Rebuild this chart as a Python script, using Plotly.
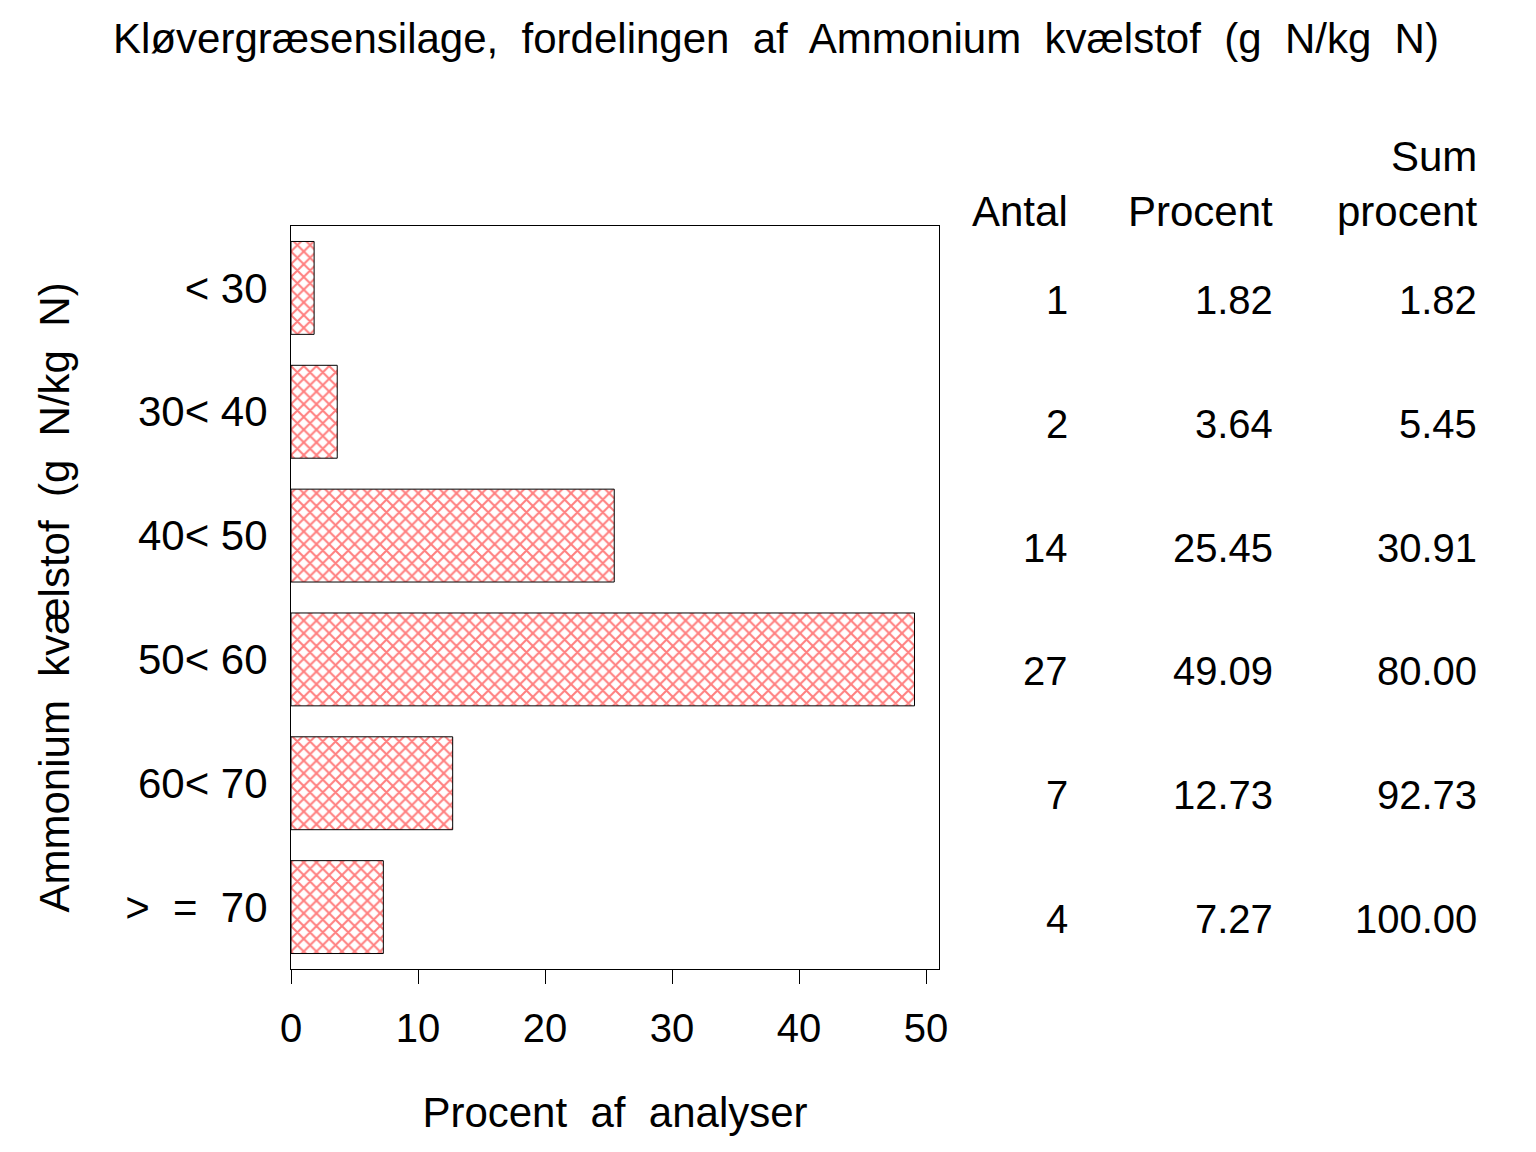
import plotly.graph_objects as go

FONT = "Liberation Sans, Arial, sans-serif"

# data
klasser = ["< 30", "30< 40", "40< 50", "50< 60", "60< 70", ">  =  70"]
antal = [1, 2, 14, 27, 7, 4]
procent = [1.82, 3.64, 25.45, 49.09, 12.73, 7.27]
sum_procent = [1.82, 5.45, 30.91, 80.00, 92.73, 100.00]
x_ticks = [0, 10, 20, 30, 40, 50]

fig = go.Figure()
fig.add_trace(go.Bar(
    y=klasser, x=procent, orientation="h", width=0.75,
    marker=dict(
        color="white",
        line=dict(color="black", width=1),
        pattern=dict(shape="x", size=9, solidity=0.4, fgcolor="#ff0000", bgcolor="white"),
    ),
    showlegend=False, hoverinfo="skip",
))

# tabel til hoejre
col_x = [1.202, 1.5186, 1.8333]   # hoejre kant, paper-koordinater
headers = ["Antal", "Procent", "procent"]
ann = []
for cx, h in zip(col_x, headers):
    ann.append(dict(x=cx, y=1.02, xref="paper", yref="paper", text=h,
                    xanchor="right", yanchor="middle", showarrow=False))
ann.append(dict(x=col_x[2], y=1.093, xref="paper", yref="paper", text="Sum",
                xanchor="right", yanchor="middle", showarrow=False))
for i, k in enumerate(klasser):
    vals = [str(antal[i]), f"{procent[i]:.2f}", f"{sum_procent[i]:.2f}"]
    for cx, v in zip(col_x, vals):
        ann.append(dict(x=cx, y=k, xref="paper", yref="y", text=v, yshift=-12,
                        xanchor="right", yanchor="middle", showarrow=False,
                        font=dict(size=40)))

# y-aksens titel som annotation (fast placering)
ann.append(dict(x=-0.3642, y=0.5, xref="paper", yref="paper",
                text="Ammonium  kvælstof  (g  N/kg  N)", textangle=-90,
                xanchor="center", yanchor="middle", showarrow=False))

# siden har 8px body-margin, derfor -8 paa venstre/top
fig.update_layout(
    width=1536, height=1152,
    paper_bgcolor="white", plot_bgcolor="white",
    font=dict(family=FONT, size=42, color="black"),
    margin=dict(l=283, r=605, t=218, b=191),
    title=dict(text="Kløvergræsensilage,  fordelingen  af  Ammonium  kvælstof  (g  N/kg  N)",
               x=0.5, xanchor="center", y=0.974, yanchor="middle",
               font=dict(size=42)),
    xaxis=dict(range=[0, 51.02], tickvals=x_ticks, ticks="outside", ticklen=14,
               tickcolor="black", showline=True, mirror=True, linecolor="black",
               linewidth=1, showgrid=False, zeroline=False,
               tickfont=dict(size=40), ticklabelstandoff=10,
               title=dict(text="Procent  af  analyser", standoff=48, font=dict(size=42))),
    yaxis=dict(type="category", categoryarray=klasser, range=[5.5, -0.5],
               ticks="", showline=True, mirror=True, linecolor="black", linewidth=1,
               showgrid=False, zeroline=False, tickfont=dict(size=42),
               ticklabelstandoff=14),
    annotations=ann,
)

fig.write_html("out.html")
